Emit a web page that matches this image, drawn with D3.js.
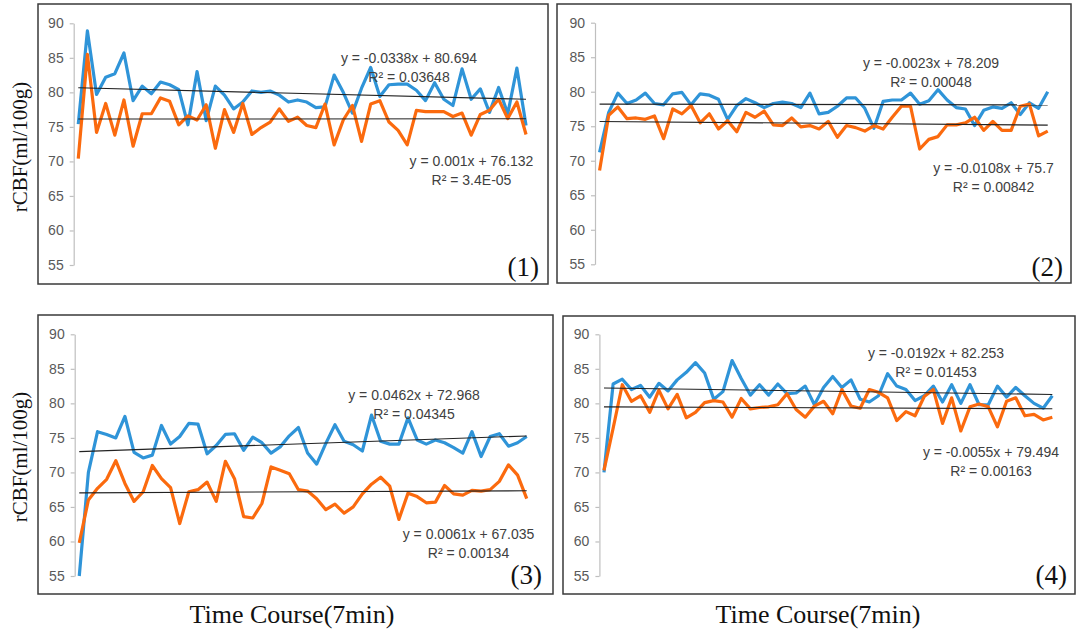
<!DOCTYPE html>
<html>
<head>
<meta charset="utf-8">
<script src="https://cdn.jsdelivr.net/npm/d3@7"></script>
<style>
  body { margin: 0; background: #fff; }
  svg { display: block; }
</style>
</head>
<body>
<svg id="chart" width="1084" height="633"></svg>
<script>
// values (50 time points each)
const blue1 = [75.4, 88.9, 79.7, 82.2, 82.7, 85.7, 78.8, 80.9, 79.8, 81.5, 81.1, 80.4, 75.3, 83.0, 75.9, 80.9, 79.6, 77.6, 78.6, 80.2,
               80.0, 80.2, 79.6, 78.6, 78.9, 78.6, 77.8, 77.9, 82.5, 80.0, 77.0, 80.6, 83.6, 79.4, 81.1, 81.2, 81.2, 80.3, 78.8, 81.4,
               79.0, 78.1, 83.4, 79.0, 80.5, 77.1, 80.7, 76.9, 83.5, 75.2];
const orange1 = [70.4, 85.5, 74.2, 78.4, 73.8, 78.9, 72.2, 76.9, 76.9, 79.2, 78.7, 75.3, 76.6, 76.0, 78.2, 71.9, 77.5, 74.2, 78.4, 73.9,
                 74.9, 75.7, 77.6, 75.8, 76.4, 75.2, 74.9, 78.3, 72.4, 76.0, 78.1, 72.9, 78.3, 78.8, 75.7, 74.5, 72.4, 77.4, 77.2, 77.2,
                 77.2, 76.5, 77.0, 73.8, 76.8, 77.4, 79.0, 76.2, 78.6, 73.9];
const blue2 = [71.2, 77.0, 79.8, 78.3, 78.8, 79.8, 78.3, 78.1, 79.7, 79.9, 78.1, 79.7, 79.5, 78.9, 76.0, 78.0, 79.0, 78.4, 77.7, 78.3,
               78.5, 78.3, 77.7, 79.8, 76.8, 77.0, 77.9, 79.1, 79.1, 77.6, 74.7, 78.6, 78.8, 78.8, 79.8, 78.2, 78.7, 80.3, 78.8, 77.7,
               77.5, 75.1, 77.3, 77.8, 77.6, 78.4, 76.7, 78.4, 77.6, 80.0];
const orange2 = [68.6, 76.6, 77.8, 76.1, 76.2, 76.0, 76.5, 73.2, 77.5, 76.8, 78.0, 75.5, 76.8, 74.6, 75.8, 74.2, 77.0, 76.3, 77.2, 75.2,
                 75.1, 76.2, 74.9, 75.1, 74.6, 75.7, 73.4, 75.1, 74.8, 74.3, 75.1, 74.6, 76.3, 77.9, 77.9, 71.7, 73.1, 73.5, 75.2, 75.2,
                 75.5, 76.3, 74.4, 75.7, 74.4, 74.4, 77.9, 78.2, 73.6, 74.3];
const blue3 = [55.0, 70.0, 75.9, 75.5, 75.0, 78.1, 72.9, 72.1, 72.5, 76.8, 74.1, 75.2, 77.1, 77.0, 72.7, 73.9, 75.5, 75.6, 73.2, 75.1,
               74.3, 72.8, 73.7, 75.3, 76.5, 72.8, 71.2, 74.2, 76.9, 74.5, 74.0, 73.1, 78.3, 74.5, 74.1, 74.1, 77.9, 74.7, 74.1, 74.7,
               74.3, 73.6, 72.8, 75.9, 72.3, 75.2, 75.6, 73.8, 74.3, 75.2];
const orange3 = [59.8, 66.0, 67.7, 69.0, 71.7, 68.4, 65.8, 67.2, 71.0, 69.1, 67.8, 62.6, 67.2, 67.5, 68.6, 65.8, 71.6, 69.1, 63.6, 63.4,
                 65.5, 70.8, 70.3, 69.8, 67.5, 67.3, 66.2, 64.6, 65.4, 64.1, 65.0, 66.9, 68.3, 69.3, 68.0, 63.2, 67.0, 66.5, 65.6, 65.7,
                 68.1, 66.9, 66.7, 67.4, 67.3, 67.5, 68.7, 71.1, 69.6, 66.2];
const blue4 = [70.0, 82.8, 83.5, 82.0, 82.6, 80.9, 82.9, 81.8, 83.4, 84.5, 85.9, 84.4, 80.6, 81.7, 86.2, 83.6, 81.2, 82.7, 81.2, 82.8,
               81.4, 81.5, 82.5, 79.8, 82.3, 83.9, 82.3, 83.4, 80.6, 80.2, 81.1, 84.3, 82.5, 82.0, 80.4, 81.1, 82.5, 80.2, 82.7, 80.0,
               82.7, 79.8, 79.8, 82.5, 80.9, 82.3, 81.1, 80.0, 79.3, 81.1];
const orange4 = [70.3, 76.4, 82.7, 80.3, 81.1, 78.7, 81.9, 79.2, 81.3, 77.9, 78.7, 80.1, 80.4, 80.2, 78.0, 80.7, 79.2, 79.4, 79.5, 79.8,
                 81.4, 79.1, 78.0, 79.6, 80.3, 78.5, 82.0, 79.6, 79.3, 82.0, 81.6, 80.8, 77.5, 78.8, 78.2, 81.0, 82.0, 77.1, 80.8, 76.0,
                 79.5, 79.9, 79.5, 76.6, 80.3, 80.8, 78.2, 78.4, 77.6, 78.0];

// linear trendline coefficients printed on the chart
const blueSlopes = [-0.0338, -0.0023, 0.0462, -0.0192];
const blueIntercepts = [80.694, 78.209, 72.968, 82.253];
const orangeSlopes = [0.001, -0.0108, 0.0061, -0.0055];
const orangeIntercepts = [76.132, 75.7, 67.035, 79.494];

const blueEqs = ["y = -0.0338x + 80.694", "y = -0.0023x + 78.209", "y = 0.0462x + 72.968", "y = -0.0192x + 82.253"];
const blueR2 = ["R² = 0.03648", "R² = 0.00048", "R² = 0.04345", "R² = 0.01453"];
const orangeEqs = ["y = 0.001x + 76.132", "y = -0.0108x + 75.7", "y = 0.0061x + 67.035", "y = -0.0055x + 79.494"];
const orangeR2 = ["R² = 3.4E-05", "R² = 0.00842", "R² = 0.00134", "R² = 0.00163"];

const panelTags = ["(1)", "(2)", "(3)", "(4)"];
const yTicks = [55, 60, 65, 70, 75, 80, 85, 90];
const yTitle = "rCBF(ml/100g)";
const xTitle = "Time Course(7min)";

const blueSeries = [blue1, blue2, blue3, blue4];
const orangeSeries = [orange1, orange2, orange3, orange4];

// layout of each panel: frame box, plot area, label anchors
const layout = [
  { frame: [38, 4, 510, 280],  plot: [73.7, 530.6, 23.3, 265],  bEq: [409, 63],    oEq: [471.5, 166], tag: [539, 276] },
  { frame: [557, 4, 514, 279], plot: [595.0, 1052.3, 22.7, 264.3], bEq: [931, 68], oEq: [993.5, 173], tag: [1063, 276] },
  { frame: [38, 315, 515, 279], plot: [74.7, 531.3, 334.3, 576], bEq: [414, 400],  oEq: [468.5, 539], tag: [542, 584] },
  { frame: [563, 316, 512, 278], plot: [599.4, 1056.9, 334.3, 576], bEq: [936, 358], oEq: [991, 457], tag: [1067, 584] }
];

const BLUE = "#2f94d8";
const ORANGE = "#fb6a0e";

const svg = d3.select("#chart");

layout.forEach((L, p) => {
  const blue = blueSeries[p], orange = orangeSeries[p];
  const cats = d3.range(1, blue.length + 1);

  const x = d3.scalePoint().domain(cats).range([L.plot[0], L.plot[1]]).padding(0.5);
  const y = d3.scaleLinear().domain([55, 90]).range([L.plot[3], L.plot[2]]);

  // panel frame
  svg.append("rect")
    .attr("x", L.frame[0]).attr("y", L.frame[1])
    .attr("width", L.frame[2]).attr("height", L.frame[3])
    .attr("fill", "none").attr("stroke", "#3a3a3a").attr("stroke-width", 1.5);

  // y axis
  const ax = svg.append("g")
    .attr("transform", `translate(${L.plot[0]},0)`)
    .call(d3.axisLeft(y).tickValues(yTicks).tickSize(4).tickSizeOuter(0).tickPadding(6));
  ax.select(".domain").attr("stroke", "#bfbfbf").attr("stroke-width", 1.2);
  ax.selectAll(".tick line").attr("stroke", "#bfbfbf").attr("stroke-width", 1.2);
  ax.selectAll(".tick text")
    .attr("fill", "#595959")
    .style("font-family", "Arial, 'Liberation Sans', sans-serif")
    .style("font-size", "14px");

  const line = d3.line().x((d, i) => x(cats[i])).y(d => y(d));

  svg.append("path").datum(blue)
    .attr("d", line).attr("fill", "none")
    .attr("stroke", BLUE).attr("stroke-width", 3.2).attr("stroke-linejoin", "round");
  svg.append("path").datum(orange)
    .attr("d", line).attr("fill", "none")
    .attr("stroke", ORANGE).attr("stroke-width", 3.2).attr("stroke-linejoin", "round");

  // trendlines
  const ends = [cats[0], cats[cats.length - 1]];
  [[blueSlopes[p], blueIntercepts[p]], [orangeSlopes[p], orangeIntercepts[p]]].forEach(([m, b]) => {
    svg.append("line")
      .attr("x1", x(ends[0])).attr("y1", y(m * ends[0] + b))
      .attr("x2", x(ends[1])).attr("y2", y(m * ends[1] + b))
      .attr("stroke", "#222").attr("stroke-width", 1.1);
  });

  // equation labels
  const eq = svg.append("g")
    .style("font-family", "Arial, 'Liberation Sans', sans-serif")
    .style("font-size", "14px")
    .attr("fill", "#404040")
    .attr("text-anchor", "middle");
  eq.append("text").attr("x", L.bEq[0]).attr("y", L.bEq[1]).text(blueEqs[p]);
  eq.append("text").attr("x", L.bEq[0]).attr("y", L.bEq[1] + 19).text(blueR2[p]);
  eq.append("text").attr("x", L.oEq[0]).attr("y", L.oEq[1]).text(orangeEqs[p]);
  eq.append("text").attr("x", L.oEq[0]).attr("y", L.oEq[1] + 19).text(orangeR2[p]);

  svg.append("text")
    .attr("x", L.tag[0]).attr("y", L.tag[1])
    .attr("text-anchor", "end")
    .style("font-family", "'Liberation Serif', 'DejaVu Serif', serif")
    .style("font-size", "27px")
    .attr("fill", "#111")
    .text(panelTags[p]);
});

// axis titles
[147, 457].forEach(cy => {
  svg.append("text")
    .attr("transform", `translate(27,${cy}) rotate(-90)`)
    .attr("text-anchor", "middle")
    .style("font-family", "'Liberation Serif', 'DejaVu Serif', serif")
    .style("font-size", "21px")
    .attr("fill", "#111")
    .text(yTitle);
});
[292, 818].forEach(cx => {
  svg.append("text")
    .attr("x", cx).attr("y", 623)
    .attr("text-anchor", "middle")
    .style("font-family", "'Liberation Serif', 'DejaVu Serif', serif")
    .style("font-size", "26px")
    .attr("fill", "#111")
    .text(xTitle);
});
</script>
</body>
</html>
